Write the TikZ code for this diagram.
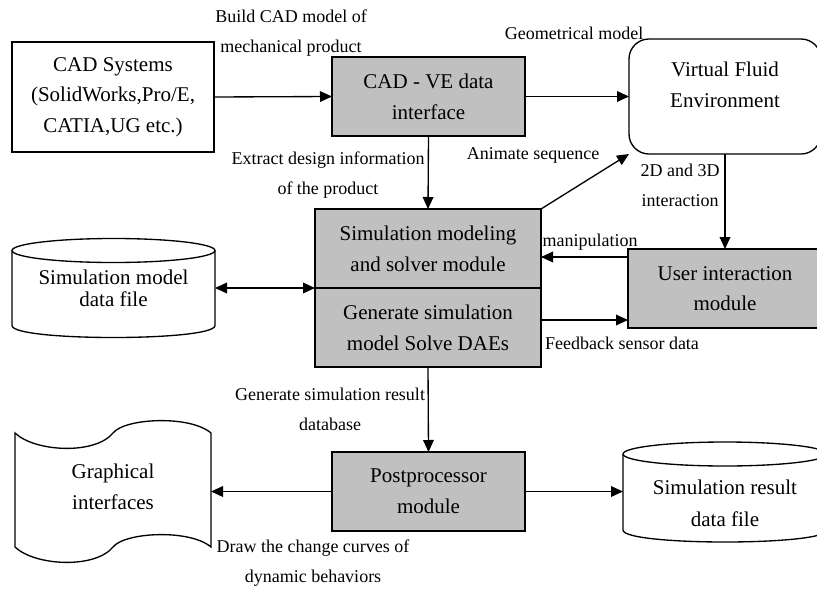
\documentclass[tikz,border=0pt]{standalone}
\usepackage{fontspec}
\setmainfont{Liberation Serif}
\usetikzlibrary{arrows.meta,calc}
\definecolor{boxgray}{RGB}{192,192,192}
\begin{document}
\begin{tikzpicture}[x=0.75pt,y=-0.75pt,line width=1pt,
  every node/.style={inner sep=0pt,outer sep=0pt},
  maintxt/.style={align=center,font=\fontsize{15.75pt}{23pt}\selectfont},
  box/.style={maintxt,draw,fill=boxgray,minimum width=144.75pt,minimum height=59.25pt},
  lbl/.style={align=center,font=\fontsize{13.5pt}{22.5pt}\selectfont},
  arr/.style={-{Triangle[length=9pt,width=8pt]}},
  darr/.style={{Triangle[length=9pt,width=8pt]}-{Triangle[length=9pt,width=8pt]}}]
\useasboundingbox (0,0) rectangle (817,589);
\clip (0,0) rectangle (817,589);

% nodes
\node[maintxt,draw,fill=white,minimum width=151.5pt,minimum height=82.5pt] (cad) at (113,97)
  {CAD Systems\\(SolidWorks,Pro/E,\\CATIA,UG etc.)};
\node[box] (cadve) at (428.5,96.5) {CAD - VE data\\interface};
\node[draw,rounded corners=15pt,minimum width=144pt,minimum height=86.25pt] (vfe) at (725,96.5) {};
\node[maintxt] (vfet) at (725,85) {Virtual Fluid\\Environment};
\node[box,minimum width=169.5pt] (sim) at (428,248.5) {Simulation modeling\\and solver module};
\node[box,minimum width=169.5pt] (gen) at (428,327.5) {Generate simulation\\model Solve DAEs};
\node[box,minimum width=145.5pt] (user) at (725,288.5) {User interaction\\module};
\node[box] (post) at (428.5,491.5) {Postprocessor\\module};

% simulation model data file (cylinder)
\draw (113.5,250.5) ellipse [x radius=101.5, y radius=12];
\draw (12,250.5) -- (12,325.5) .. controls (12,341.5) and (215,341.5) .. (215,325.5) -- (215,250.5);
\node[maintxt,font=\fontsize{15.75pt}{16.5pt}\selectfont,minimum width=152.25pt,minimum height=74.25pt] (smf) at (113.5,288)
  {Simulation model\\data file};

% simulation result data file (cylinder)
\draw (725,454) ellipse [x radius=102, y radius=12];
\draw (623,454) -- (623,530) .. controls (623,546) and (827,546) .. (827,530) -- (827,454);
\node[minimum width=153pt,minimum height=75pt] (srf) at (725,492) {};
\node[maintxt,font=\fontsize{15.75pt}{24pt}\selectfont] (srft) at (725,503) {Simulation result\\data file};

% graphical interfaces (tape)
\draw (15,433) .. controls (35,452) and (95,455) .. (113,433)
  .. controls (125,418) and (190,415) .. (211,433) -- (211,547)
  .. controls (190,529) and (125,532) .. (113,547)
  .. controls (95,569) and (35,566) .. (15,547) -- cycle;
\node[maintxt,minimum width=147pt,minimum height=85.5pt] (gi) at (113,487) {Graphical\\interfaces};

% connectors
\draw[arr] (cad.east) -- (cadve.west);
\draw[arr] (cadve.east) -- (cadve.east -| vfe.west);
\draw[arr] (cadve.south) -- (sim.north);
\draw[arr] (sim.north east) -- (vfe.south west);
\draw[arr] (vfe.south) -- (vfe.south |- user.north);
\coordinate (m1) at ($(user.north west)+(0,8)$);
\draw[arr] (m1) -- (m1 -| sim.east);
\coordinate (f1) at ($(user.south west)+(0,-8)$);
\draw[arr] (f1 -| gen.east) -- (f1);
\draw[darr] (smf.east) -- (sim.south west);
\draw[arr] (gen.south) -- (post.north);
\draw[arr] (post.west) -- (post.west -| gi.east);
\draw[arr] (post.east) -- (post.east -| srf.west);

% labels
\node[lbl] (l1) at (291,33) {Build CAD model of\\mechanical product};
\node[lbl] (l2) at (574,33) {Geometrical model};
\node[lbl] (l3) at (328,175) {Extract design information\\of the product};
\node[lbl] (l4) at (533,155) {Animate sequence};
\node[lbl] (l5) at (680,185) {2D and 3D\\interaction};
\node[lbl] (l6) at (590,242) {manipulation};
\node[lbl] (l7) at (622,343) {Feedback sensor data};
\node[lbl] (l8) at (330,409) {Generate simulation result\\database};
\node[lbl] (l9) at (313,563) {Draw the change curves of\\dynamic behaviors};
\end{tikzpicture}
\end{document}
